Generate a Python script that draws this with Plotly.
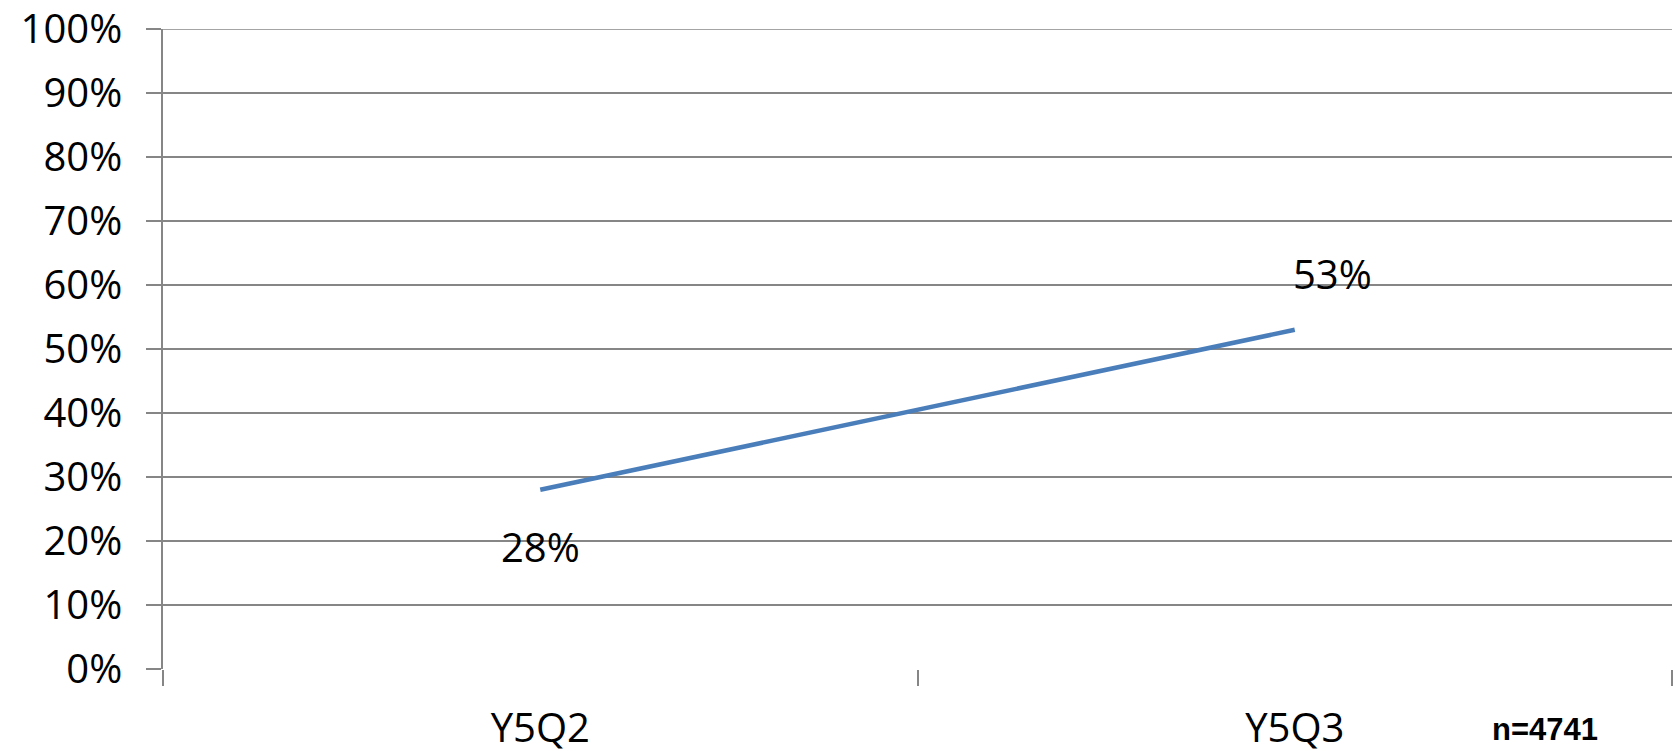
import plotly.graph_objects as go

categories = ["Y5Q2", "Y5Q3"]
values = [0.28, 0.53]
value_labels = ["28%", "53%"]
y_ticks = [i / 10 for i in range(11)]
y_tick_labels = [f"{i*10}%" for i in range(11)]
sample_note = "n=4741"

GRID = "#868686"
FONT = "Open Sans"

fig = go.Figure()
fig.add_trace(go.Scatter(
    x=categories, y=values, mode="lines",
    line=dict(color="#4a7ebb", width=4.5),
    hoverinfo="skip", showlegend=False,
))

# data labels
label_shifts = [(0, -57), (38, 56)]
for cat, val, txt, (dx, dy) in zip(categories, values, value_labels, label_shifts):
    fig.add_annotation(x=cat, y=val, xref="x", yref="y", text=txt,
                       showarrow=False, xshift=dx, yshift=dy,
                       font=dict(family=FONT, size=40, color="#000000"))

fig.add_annotation(x=(1545 - 163) / (1677 - 163 - 5), y=(669 - 729) / (669 - 29),
                   xref="paper", yref="paper", text=f"<b>{sample_note}</b>",
                   xanchor="center", yanchor="middle", showarrow=False,
                   font=dict(family="Liberation Sans", size=31, color="#000000"))

# top gridline at 100% (plotly omits the gridline at the range edge)
fig.add_shape(type="line", xref="paper", yref="y", x0=0, x1=1, y0=1, y1=1,
              line=dict(color=GRID, width=1.5), layer="below")

fig.update_layout(
    width=1677, height=751,
    margin=dict(l=163, r=5, t=29, b=82, autoexpand=False),
    paper_bgcolor="white", plot_bgcolor="white",
    font=dict(family=FONT, size=40, color="#000000"),
    xaxis=dict(
        type="category", range=[-0.5, 1.5], tickson="boundaries",
        ticks="outside", ticklen=16, tickcolor=GRID, tickwidth=1.5,
        showgrid=False, showline=False, zeroline=False, automargin=False,
        tickfont=dict(family=FONT, size=40, color="#000000"),
        ticklabelstandoff=32,
    ),
    yaxis=dict(
        range=[0, 1], tickvals=y_ticks, ticktext=y_tick_labels,
        ticks="outside", ticklen=15, tickcolor=GRID, tickwidth=1.5,
        showgrid=True, gridcolor=GRID, gridwidth=1.5,
        showline=True, linecolor=GRID, linewidth=1.5,
        zeroline=False, automargin=False,
        tickfont=dict(family=FONT, size=40, color="#000000"),
        ticklabelstandoff=16,
    ),
)

fig.write_html("out.html")
